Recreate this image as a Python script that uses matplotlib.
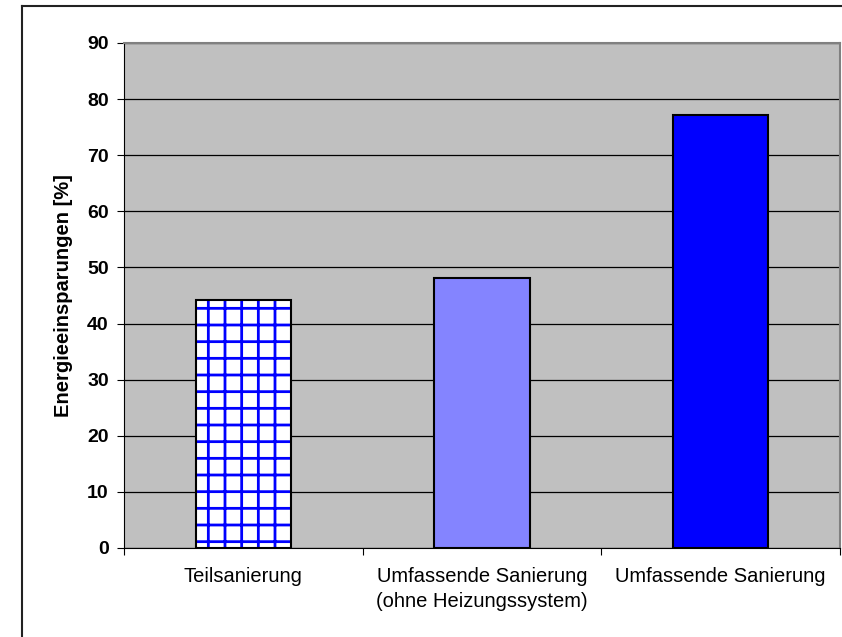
import matplotlib
matplotlib.use("Agg")
import matplotlib.pyplot as plt
from matplotlib.lines import Line2D

categories = ["Teilsanierung", "Umfassende Sanierung\n(ohne Heizungssystem)", "Umfassende Sanierung"]
savings = [44.2, 48.1, 77.2]
y_ticks = [0, 10, 20, 30, 40, 50, 60, 70, 80, 90]

plt.rcParams["font.family"] = ["Liberation Sans", "DejaVu Sans"]
plt.rcParams["hatch.linewidth"] = 2.0

fig = plt.figure(figsize=(8.42, 6.37), dpi=100)
ax = fig.add_axes([124 / 842, 1 - 548 / 637, 716 / 842, 505 / 637])
ax.set_facecolor("#C0C0C0")

x = [i + 0.5 for i in range(len(categories))]
faces = ["white", "#8484FF", "#0000FF"]
hatches = ["+", None, None]
for xi, v, fc, h in zip(x, savings, faces, hatches):
    # fill (hatch takes the edge colour, so the outline is drawn separately)
    ax.bar(xi, v, width=0.4, color=fc, hatch=h, edgecolor="#0000FF", linewidth=0, zorder=3)
    ax.bar(xi, v, width=0.4, fill=False, edgecolor="black", linewidth=1.5, zorder=4)

ax.set_xlim(0, 3)
ax.set_ylim(0, 90)
ax.set_yticks(y_ticks)
ax.set_yticklabels([str(t) for t in y_ticks], fontsize=14, fontweight="bold")
ax.yaxis.grid(True, color="black", linewidth=0.9, zorder=1)
ax.set_axisbelow(True)

ax.set_xticks([0, 1, 2, 3])
ax.set_xticklabels([])
ax.set_xticks(x, minor=True)
ax.set_xticklabels(categories, minor=True, fontsize=14.5, linespacing=1.35)
ax.tick_params(axis="x", which="minor", length=0, pad=14)
ax.tick_params(axis="x", which="major", length=5, direction="out", color="black")
ax.tick_params(axis="y", length=5, direction="out", pad=6)

for s in ["top", "right"]:
    ax.spines[s].set_color("#808080")
    ax.spines[s].set_linewidth(1.5)
ax.spines["left"].set_color("black")
ax.spines["bottom"].set_color("black")

ax.set_ylabel("Energieeinsparungen [%]", fontsize=14.5, fontweight="bold", labelpad=10)

# outer chart frame (cut off on the right and bottom)
fig.add_artist(Line2D([22 / 842, 22 / 842], [0, 1 - 6 / 637], color="#222222", lw=1.5))
fig.add_artist(Line2D([22 / 842, 1], [1 - 6 / 637, 1 - 6 / 637], color="#222222", lw=1.5))

fig.savefig("out.png", dpi=100)
